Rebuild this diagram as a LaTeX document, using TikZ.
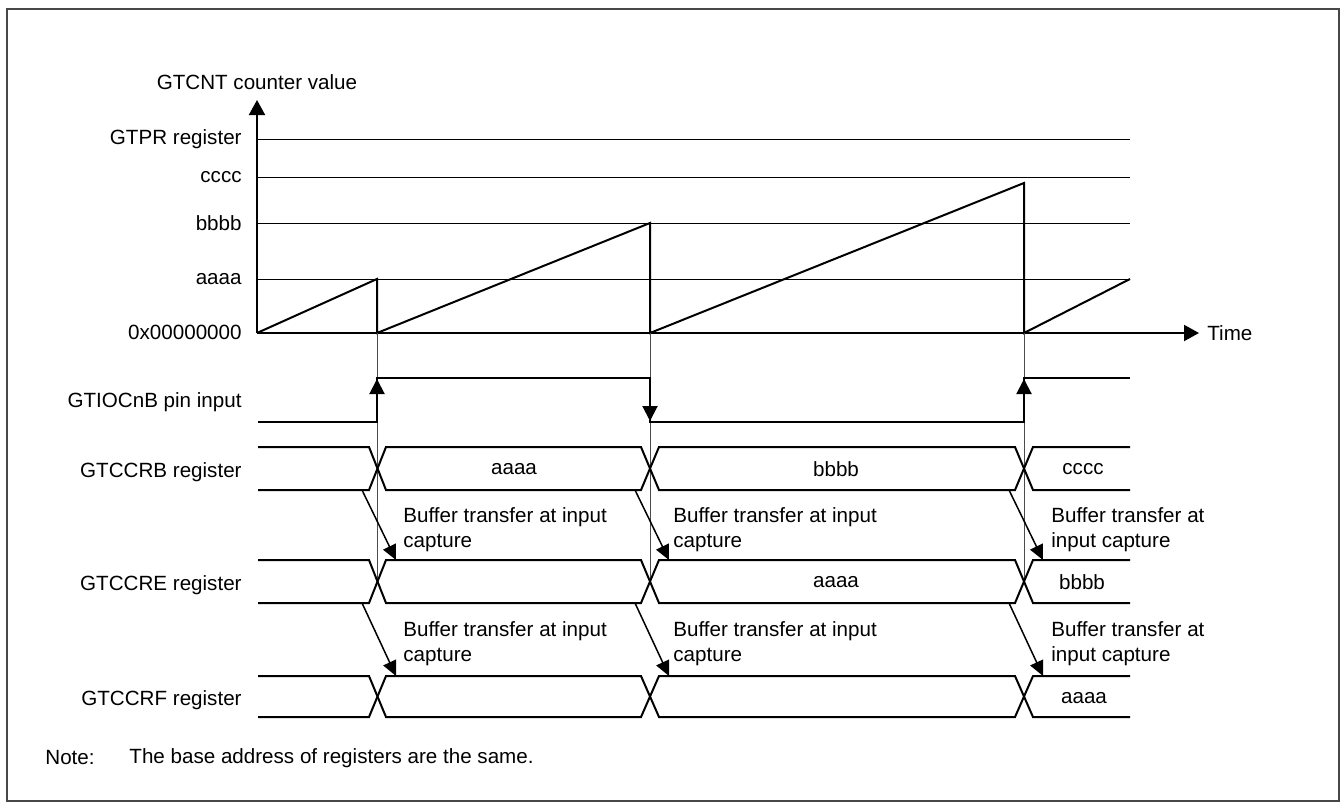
\documentclass[tikz,border=0pt]{standalone}
\usepackage{fontspec}
\setmainfont{Liberation Sans}
\usepackage{tikz}
\usetikzlibrary{
  arrows.meta,
  positioning
}

\tikzset{
  sig/.style={line width=1pt, line join=miter},
  lvl/.style={line width=0.5pt},
  axisline/.style={line width=1pt, -{Triangle[length=7.5pt,width=8pt]}},
  guide/.style={line width=0.5pt, black!70},
  edgearr/.style={line width=1pt, -{Triangle[length=7.5pt,width=7.5pt]}},
  xfer/.style={line width=0.75pt, -{Triangle[length=7.5pt,width=7pt]}},
  lbl/.style={anchor=east, inner sep=0pt},
  note/.style={anchor=north west, inner sep=0pt, align=left}
}

\begin{document}
\begin{tikzpicture}[x=0.5pt, y=-0.5pt, font=\fontsize{10.3}{12.5}\selectfont]
  \useasboundingbox (0,0) rectangle (1343,803);
  \draw[line width=1pt, black!72] (7,9) rectangle (1339,801);
  % Helper to draw one bus row: \bus{top}{bottom}
  \newcommand{\bus}[2]{%
    \draw[sig] (258,#1) -- (369,#1) -- (386,#2) -- (641,#2) -- (659,#1) -- (1015,#1) -- (1033,#2) -- (1130,#2);
    \draw[sig] (258,#2) -- (369,#2) -- (386,#1) -- (641,#1) -- (659,#2) -- (1015,#2) -- (1033,#1) -- (1130,#1);
  }
  % Counter levels
  \foreach \y/\t/\n in {139/GTPR register/gtpr, 177/cccc/lvc, 223/bbbb/lvb, 279/aaaa/lva} {
    \draw[lvl] (257,\y) -- (1130,\y);
    \node[lbl] (\n) at (242,\y) {\t};
  }
  \node[lbl] (zero) at (242,332) {0x00000000};
  % Axes
  \draw[axisline] (257,333) -- (257,100);
  \draw[axisline] (257,333) -- (1199,333);
  \node[anchor=south, inner sep=0pt] (ylab) at (257,90) {GTCNT counter value};
  \node[anchor=west, inner sep=0pt] (xlab) at (1207,333) {Time};
  % Counter ramps
  \draw[sig] (257,333) -- (377,279) -- (377,333) -- (650,223) -- (650,333)
    -- (1024,183) -- (1024,333) -- (1130,279);
  % Capture guides
  \foreach \c in {377,650,1024} \draw[guide] (\c,333) -- (\c,581);
  % Row: GTIOCnB pin input
  \node[lbl] (pin) at (242,402) {GTIOCnB pin input};
  \draw[sig] (258,422) -- (377,422) -- (377,378) -- (650,378) -- (650,422)
    -- (1024,422) -- (1024,378) -- (1130,378);
  \draw[edgearr] (377,402) -- (377,379);
  \draw[edgearr] (650,398) -- (650,421);
  \draw[edgearr] (1024,402) -- (1024,379);
  % Row: GTCCRB
  \node[lbl] (regb) at (242,472) {GTCCRB register};
  \bus{447}{490}
  \node (rb1) at (514,469) {aaaa};
  \node (rb2) at (836,469) {bbbb};
  \node (rb3) at (1083,469) {cccc};
  % Row: GTCCRE
  \node[lbl] (rege) at (242,585) {GTCCRE register};
  \bus{560}{603}
  \node (re2) at (836,582) {aaaa};
  \node (re3) at (1082,582) {bbbb};
  % Row: GTCCRF
  \node[lbl] (regf) at (242,700) {GTCCRF register};
  \bus{676}{717}
  \node (rf3) at (1084,698) {aaaa};
  % Buffer transfers
  \foreach \c/\tx/\k in {377/403/1, 650/673/2} {
    \coordinate (be\k) at (\c-15,490);
    \coordinate (ee\k) at (\c+19,560);
    \coordinate (bf\k) at (\c-15,603);
    \coordinate (ef\k) at (\c+19,676);
    \draw[xfer] (be\k) -- (ee\k);
    \draw[xfer] (bf\k) -- (ef\k);
    \node[note] (te\k) at (\tx,507) {Buffer transfer at input\\capture};
    \node[note] (tf\k) at (\tx,621) {Buffer transfer at input\\capture};
  }
  \coordinate (be3) at (1009,490);
  \coordinate (ee3) at (1043,560);
  \coordinate (bf3) at (1009,603);
  \coordinate (ef3) at (1043,676);
  \draw[xfer] (be3) -- (ee3);
  \draw[xfer] (bf3) -- (ef3);
  \node[note] (te3) at (1051,507) {Buffer transfer at\\input capture};
  \node[note] (tf3) at (1051,621) {Buffer transfer at\\input capture};
  % Note
  \node[anchor=west, inner sep=0pt] (notehd) at (45,758) {Note:};
  \node[anchor=west, inner sep=0pt, right=17pt of notehd] (notetx) {The base address of registers are the same.};
\end{tikzpicture}
\end{document}
